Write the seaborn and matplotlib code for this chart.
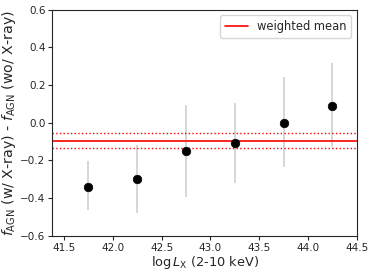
import numpy as np
import pandas as pd
import matplotlib
matplotlib.use("Agg")
import matplotlib.pyplot as plt
import seaborn as sns

sns.set_style("ticks")
plt.rcParams['font.family'] = ['DejaVu Sans']

# binned values
log_lx = [41.75, 42.25, 42.75, 43.25, 43.75, 44.25]
diff = [-0.34, -0.30, -0.15, -0.11, 0.00, 0.09]
err_lo = [-0.462, -0.477, -0.392, -0.318, -0.233, -0.127]
err_hi = [-0.203, -0.118, 0.094, 0.103, 0.241, 0.315]

wmean = -0.095
wmean_err = 0.04

df = pd.DataFrame({'lx': log_lx, 'diff': diff})

fig, ax = plt.subplots(figsize=(3.74, 2.74), dpi=100)
ax.vlines(log_lx, err_lo, err_hi, color='lightgray', lw=1.3, zorder=1)
sns.scatterplot(data=df, x='lx', y='diff', color='black', s=38, edgecolor='black',
                zorder=3, ax=ax)

ax.axhline(wmean, color='red', lw=1.2, label='weighted mean')
ax.axhline(wmean + wmean_err, color='red', lw=1.0, ls=':')
ax.axhline(wmean - wmean_err, color='red', lw=1.0, ls=':')

ax.set_xlim(41.38, 44.5)
ax.set_ylim(-0.6, 0.6)
ax.set_xticks(np.arange(41.5, 44.51, 0.5))
ax.set_yticks(np.arange(-0.6, 0.61, 0.2))
ax.tick_params(labelsize=7.5, length=3, pad=2)
ax.set_xlabel(r'$\log L_{\rm X}$ (2-10 keV)', fontsize=9.3, labelpad=1)
ax.set_ylabel(r'$f_{\rm AGN}$ (w/ X-ray) - $f_{\rm AGN}$ (wo/ X-ray)', fontsize=10.2, labelpad=1.5)
ax.legend(loc='upper right', fontsize=8.3)

plt.subplots_adjust(left=0.14, right=0.954, top=0.965, bottom=0.139)
plt.savefig('out.png', dpi=100)
